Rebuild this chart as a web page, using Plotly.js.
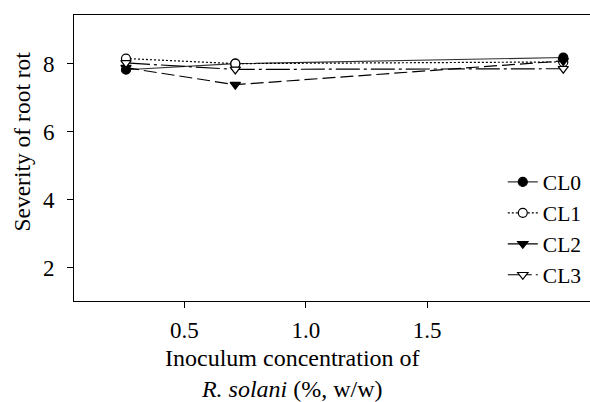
<!DOCTYPE html>
<html>
<head>
<meta charset="utf-8">
<script src="https://cdn.plot.ly/plotly-3.0.1.min.js"></script>
<style>html,body{margin:0;padding:0;background:#fff;}#chart{width:590px;height:402px;}</style>
</head>
<body>
<div id="chart"></div>
<script>
var concentration = [0.26, 0.71, 2.06];
var seriesNames = ["CL0", "CL1", "CL2", "CL3"];
var cl0 = [7.82, 8.00, 8.18];
var cl1 = [8.15, 8.00, 8.05];
var cl2 = [7.88, 7.38, 8.08];
var cl3 = [8.02, 7.83, 7.85];
var xTicks = [0.5, 1.0, 1.5];
var xTickLabels = ["0.5", "1.0", "1.5"];
var yTicks = [2, 4, 6, 8];
var yTickLabels = ["2", "4", "6", "8"];

var font = "Liberation Serif";
function tr(name, y, dash, symbol, fill, color) {
  return {
    x: concentration, y: y, name: name, type: "scatter", mode: "lines+markers",
    line: {color: color, width: 1.2, dash: dash},
    marker: {symbol: symbol, size: 9, color: fill, line: {color: "#000", width: 1.2}}
  };
}
var data = [
  tr(seriesNames[0], cl0, "solid", "circle", "#000", "#333"),
  tr(seriesNames[1], cl1, "2px,2px", "circle", "#fff", "#000"),
  tr(seriesNames[2], cl2, "13px,5px", "triangle-down", "#000", "#000"),
  tr(seriesNames[3], cl3, "24px,4px,3px,4px", "triangle-down", "#fff", "#000")
];

var layout = {
  width: 590, height: 402,
  margin: {l: 74, r: 0, t: 15, b: 101},
  paper_bgcolor: "#fff", plot_bgcolor: "#fff",
  font: {family: font, color: "#000", size: 22},
  showlegend: true,
  legend: {x: 0.831, y: 0.488, xanchor: "left", yanchor: "top", bgcolor: "rgba(0,0,0,0)",
           font: {family: font, size: 21.5, color: "#000"}, tracegroupgap: 0},
  xaxis: {
    range: [0.046, 2.17], showgrid: false, zeroline: false,
    showline: true, linecolor: "#000", linewidth: 1, mirror: true,
    ticks: "outside", ticklen: 6, tickcolor: "#000", tickwidth: 1,
    tickvals: xTicks, ticktext: xTickLabels, ticklabelstandoff: 2,
    tickfont: {family: font, size: 23, color: "#000"}
  },
  yaxis: {
    range: [1.02, 9.43], showgrid: false, zeroline: false,
    showline: true, linecolor: "#000", linewidth: 1,
    ticks: "outside", ticklen: 6, tickcolor: "#000", tickwidth: 1,
    tickvals: yTicks, ticktext: yTickLabels, ticklabelstandoff: 8,
    tickfont: {family: font, size: 23, color: "#000"}
  },
  annotations: [
    {xref: "paper", yref: "paper", x: 0.424, y: -0.252, xanchor: "center", yanchor: "middle",
     text: "Inoculum concentration of<br><i>R. solani</i> (%, w/w)", showarrow: false,
     font: {family: font, size: 24, color: "#000"}},
    {xref: "paper", yref: "paper", x: -0.101, y: 0.557, xanchor: "center", yanchor: "middle",
     text: "Severity of root rot", textangle: -90, showarrow: false,
     font: {family: font, size: 23.5, color: "#000"}}
  ]
};
Plotly.newPlot("chart", data, layout, {staticPlot: true, displayModeBar: false});
</script>
</body>
</html>
